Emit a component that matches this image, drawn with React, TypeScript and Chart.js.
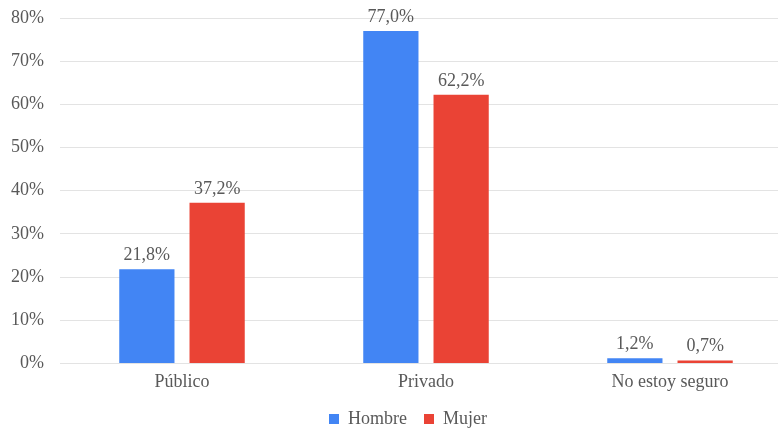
import React, { useEffect, useRef } from "react";
import { Chart, registerables } from "chart.js";

Chart.register(...registerables);

const categories = ["Público", "Privado", "No estoy seguro"];
const seriesNames = ["Hombre", "Mujer"];
const hombre = [21.8, 77.0, 1.2];
const mujer = [37.2, 62.2, 0.7];
const yTicks = [0, 10, 20, 30, 40, 50, 60, 70, 80];

const FONT = "'Liberation Serif', 'DejaVu Serif', serif";
const TEXT = "#595959";
const FS = 18;

const fmt = (v: number) => v.toFixed(1).replace(".", ",") + "%";

const dataLabelPlugin = {
  id: "dataLabels",
  afterLayout(chart: any) {
    if (chart.legend) {
      chart.legend.left += 12;
      chart.legend.right += 12;
    }
  },
  afterDatasetsDraw(chart: any) {
    const ctx = chart.ctx;
    ctx.save();
    ctx.font = `${FS}px ${FONT}`;
    ctx.fillStyle = TEXT;
    ctx.textAlign = "center";
    ctx.textBaseline = "bottom";
    chart.data.datasets.forEach((ds: any, i: number) => {
      const meta = chart.getDatasetMeta(i);
      meta.data.forEach((bar: any, j: number) => {
        ctx.fillText(fmt(ds.data[j]), bar.x, bar.y - 5);
      });
    });
    ctx.restore();
  },
};

export default function App() {
  const ref = useRef<HTMLCanvasElement>(null);
  useEffect(() => {
    if (!ref.current) return;
    const chart = new Chart(ref.current, {
      type: "bar",
      data: {
        labels: categories,
        datasets: [
          {
            label: seriesNames[0],
            data: hombre,
            backgroundColor: "#4285F4",
            categoryPercentage: 0.576,
            barPercentage: 0.786,
          },
          {
            label: seriesNames[1],
            data: mujer,
            backgroundColor: "#EA4335",
            categoryPercentage: 0.576,
            barPercentage: 0.786,
          },
        ],
      },
      options: {
        responsive: false,
        animation: false,
        layout: { padding: { top: 18, right: 0, left: 0, bottom: 0 } },
        plugins: {
          legend: {
            position: "bottom",
            labels: {
              boxWidth: 10,
              boxHeight: 10,
              color: TEXT,
              font: { family: FONT, size: FS },
              padding: 17,
            },
          },
          tooltip: { enabled: false },
        },
        scales: {
          x: {
            grid: { display: false },
            border: { display: false },
            ticks: { color: TEXT, font: { family: FONT, size: FS }, padding: 0 },
          },
          y: {
            min: 0,
            max: 80,
            afterFit: (s: any) => {
              s.width = 60;
              s.paddingTop = 0;
              s.paddingBottom = 0;
            },
            afterBuildTicks: (s: any) => {
              s.ticks = yTicks.map((v) => ({ value: v }));
            },
            grid: { color: "#e3e3e3", lineWidth: 1, drawTicks: false },
            border: { display: false },
            ticks: {
              color: TEXT,
              font: { family: FONT, size: FS },
              padding: 16,
              callback: (v: any) => v + "%",
            },
          },
        },
      },
      plugins: [dataLabelPlugin],
    });
    return () => chart.destroy();
  }, []);
  return (
    <div
      style={{
        position: "fixed",
        left: 0,
        top: 0,
        width: 778,
        height: 430,
        overflow: "hidden",
        background: "#fff",
      }}
    >
      <canvas ref={ref} width={792} height={438} />
    </div>
  );
}
